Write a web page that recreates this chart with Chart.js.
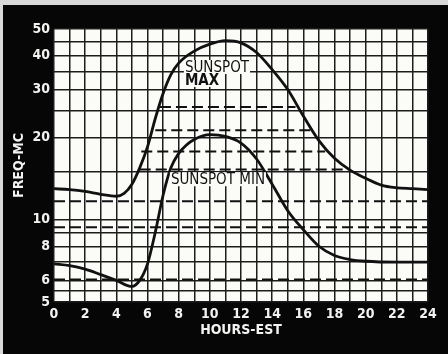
<!DOCTYPE html>
<html>
<head>
<meta charset="utf-8">
<script src="https://cdn.jsdelivr.net/npm/chart.js@4/dist/chart.umd.min.js"></script>
<style>
html,body{margin:0;padding:0;background:#000;}
</style>
</head>
<body>
<canvas id="chart" width="448" height="354"></canvas>
<script>
// sunspot max curve (hours EST, freq in MC)
const maxHours = [0,1,2,3,4,4.5,5,5.5,6,6.5,7,7.5,8,9,10,11,12,13,14,15,16,17,18,19,20,21,22,23,24];
const maxFreq  = [13.0,12.9,12.7,12.4,12.2,12.5,13.5,15.5,18.5,23.5,29,34,37.5,41.5,44,45.3,44.5,41,35.5,30,24,19.5,16.8,15.2,14.2,13.4,13.1,13.0,12.9];

// sunspot min curve
const minHours = [0,1,2,3,4,5,5.5,6,6.5,7,7.5,8,8.5,9,10,11,12,13,14,15,16,17,18,19,20,22,24];
const minFreq  = [6.9,6.8,6.6,6.3,6.0,5.7,6.0,6.9,9.0,12.3,15.5,17.5,18.8,19.7,20.5,20.2,19.1,16.7,13.5,10.8,9.2,8.0,7.4,7.15,7.05,7.0,7.0];

// dashed horizontal levels
const dashFreq  = [25.9,21.3,17.8,15.3,11.7,9.4,6.05];
const dashStart = [6.8,6.5,5.6,5.5,0,0,0];
const dashEnd   = [15.5,16.5,17.4,18.9,24,24,24];

// axis ticks
const gridFreq  = [5,5.5,6,7,8,9,10,15,20,25,30,35,40,45,50];
const freqLabels = [5,6,8,10,20,30,40,50];

const tickFont = {family:"'DejaVu Sans Condensed','DejaVu Sans',sans-serif", size:14, weight:'bold'};
const ink = '#111';
const paper = '#f2f2f0';

const curves = [
  {data: maxHours.map((h,i)=>({x:h,y:maxFreq[i]}))},
  {data: minHours.map((h,i)=>({x:h,y:minFreq[i]}))}
].map(d=>({
  data:d.data,
  borderColor:ink,
  borderWidth:2.8,
  pointRadius:0,
  cubicInterpolationMode:'monotone'
}));

const dashes = dashFreq.map((f,i)=>({
  data:[{x:dashStart[i],y:f},{x:dashEnd[i],y:f}],
  borderColor:ink,
  borderWidth:2,
  borderDash:[11,5],
  pointRadius:0,
  tension:0
}));

// black frame + white paper behind the grid
const frame = {
  id:'frame',
  beforeDraw(chart){
    const {ctx,width,height,chartArea:a} = chart;
    ctx.save();
    ctx.fillStyle='#d8d8d8';
    ctx.fillRect(0,0,width,height);
    ctx.fillStyle='#060606';
    ctx.fillRect(3,5,width-3,height-5);
    ctx.fillStyle='#fbfbf8';
    ctx.fillRect(a.left,a.top,a.right-a.left,a.bottom-a.top);
    ctx.restore();
  }
};

// curve names
const notes = {
  id:'notes',
  afterDatasetsDraw(chart){
    const {ctx,scales} = chart;
    const items = [
      {t:'SUNSPOT', h:8.4, f:34.8, w:'normal'},
      {t:'MAX', h:8.4, f:31.2, w:'bold'},
      {t:'SUNSPOT MIN', h:7.5, f:13.5, w:'normal'}
    ];
    ctx.save();
    items.forEach(it=>{
      ctx.font = it.w+" 15px 'DejaVu Sans Condensed','DejaVu Sans',sans-serif";
      const x = scales.x.getPixelForValue(it.h);
      const y = scales.y.getPixelForValue(it.f);
      const w = ctx.measureText(it.t).width;
      ctx.fillStyle='#fbfbf8';
      ctx.fillRect(x-1,y-12,w+2,14);
      ctx.fillStyle=ink;
      ctx.textBaseline='alphabetic';
      ctx.fillText(it.t,x,y);
    });
    ctx.restore();
  }
};

new Chart(document.getElementById('chart'), {
  type:'line',
  data:{datasets:[...curves,...dashes]},
  options:{
    responsive:false,
    animation:false,
    layout:{autoPadding:false, padding:{top:29,right:20,left:0,bottom:0}},
    plugins:{legend:{display:false}, tooltip:{enabled:false}},
    scales:{
      x:{
        type:'linear', min:0, max:24,
        afterFit(s){ s.height = 52; },
        grid:{color:'#1c1c1c', lineWidth:1.5, drawTicks:false},
        border:{display:false},
        ticks:{
          stepSize:1, autoSkip:false, maxRotation:0, padding:4,
          color:paper, font:tickFont,
          callback:v => v%2===0 ? String(v) : ''
        },
        title:{display:true, text:'HOURS-EST', color:paper, font:tickFont, padding:{bottom:15}}
      },
      y:{
        type:'logarithmic', min:5, max:50,
        afterBuildTicks(s){ s.ticks = gridFreq.map(v=>({value:v})); },
        afterFit(s){ s.width = 54; },
        grid:{color:'#1c1c1c', lineWidth:1.5, drawTicks:false},
        border:{display:false},
        ticks:{
          autoSkip:false, padding:4, color:paper, font:tickFont,
          callback:v => freqLabels.includes(v) ? String(v) : ''
        },
        title:{display:true, text:'FREQ-MC', color:paper, font:tickFont, padding:{top:11}}
      }
    }
  },
  plugins:[frame,notes]
});
</script>
</body>
</html>
